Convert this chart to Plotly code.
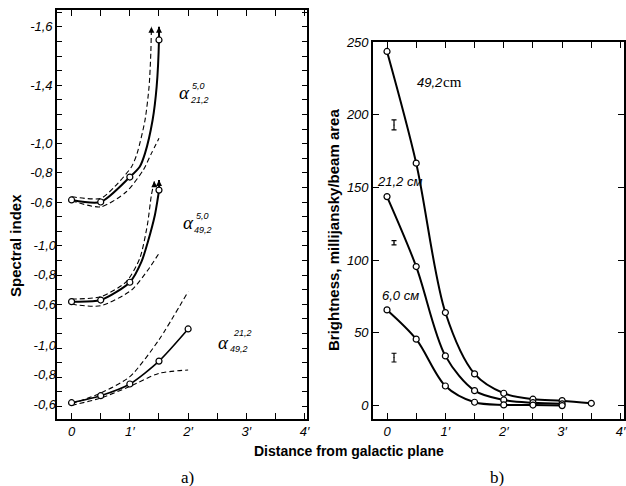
import plotly.graph_objects as go

W, H = 626, 486

# ---------------- Panel a) : spectral index ----------------
# measured points
a1_x = [0, 0.5, 1.0, 1.5]
a1_y = [-0.614, -0.60, -0.771, -1.71]
a2_x = [0, 0.5, 1.0, 1.5]
a2_y = [-0.616, -0.627, -0.749, -1.38]
a3_x = [0, 0.5, 1.0, 1.5, 2.0]
a3_y = [-0.609, -0.657, -0.737, -0.894, -1.114]

# solid curves (incl. arrow tips)
a1_cx = [0, 0.5, 1.0, 1.17, 1.26, 1.39, 1.46, 1.5, 1.5]
a1_cy = [-0.614, -0.60, -0.771, -0.842, -0.933, -1.16, -1.39, -1.71, -1.80]
a2_cx = [0, 0.5, 1.0, 1.2, 1.31, 1.43, 1.47, 1.5, 1.5]
a2_cy = [-0.616, -0.627, -0.749, -0.89, -1.027, -1.21, -1.30, -1.38, -1.45]
a3_cx = a3_x
a3_cy = a3_y

# dashed error envelopes
a1_up_x = [0, 0.5, 0.74, 1.03, 1.125, 1.26, 1.33, 1.36, 1.37]
a1_up_y = [-0.636, -0.625, -0.705, -0.842, -0.933, -1.16, -1.39, -1.62, -1.80]
a1_lo_x = [0, 0.5, 0.94, 1.23, 1.37, 1.5]
a1_lo_y = [-0.609, -0.567, -0.67, -0.819, -0.933, -1.036]
a2_up_x = [0, 0.5, 0.94, 1.17, 1.30, 1.37, 1.42]
a2_up_y = [-0.634, -0.65, -0.753, -0.912, -1.14, -1.346, -1.44]
a2_lo_x = [0, 0.5, 1.03, 1.31, 1.5]
a2_lo_y = [-0.598, -0.588, -0.696, -0.833, -0.947]
a3_up_x = [0, 0.5, 1.0, 1.5, 2.0]
a3_up_y = [-0.60, -0.675, -0.787, -1.04, -1.37]
a3_lo_x = [0, 0.5, 1.0, 1.5, 2.0]
a3_lo_y = [-0.59, -0.641, -0.72, -0.81, -0.833]

# arrow tips
arr1_x = [1.5, 1.37]
arr1_y = [-1.80, -1.80]
arr2_x = [1.5, 1.42]
arr2_y = [-1.45, -1.44]

# ---------------- Panel b) : brightness ----------------
b_x49 = [0, 0.5, 1.0, 1.5, 2.0, 2.5, 3.0, 3.5]
b_y49 = [243.5, 166.7, 64, 21.8, 8.5, 4.4, 3.4, 1.6]
b_x21 = [0, 0.5, 1.0, 1.5, 2.0, 2.5, 3.0]
b_y21 = [143.7, 95.6, 34.2, 10.3, 3.9, 2.0, 1.2]
b_x6 = [0, 0.5, 1.0, 1.5, 2.0, 2.5, 3.0]
b_y6 = [65.8, 45.7, 13.5, 2.3, 0.5, 0.4, 0.0]
err_x = [0.12, 0.12, 0.12]
err_y = [193, 112, 33]
err_e = [3.4, 1.5, 3.0]

x_ticks = [0, 0.5, 1, 1.5, 2, 2.5, 3, 3.5, 4]
x_text = ["0", "", "1′", "", "2′", "", "3′", "", "4′"]

fig = go.Figure()

def line(x, y, xa, ya, dash="solid", width=2.0, smoothing=0.7):
    fig.add_trace(go.Scatter(x=x, y=y, xaxis=xa, yaxis=ya, mode="lines",
                             line=dict(color="black", width=width, dash=dash, shape="spline",
                                       smoothing=smoothing),
                             hoverinfo="skip", showlegend=False))

def pts(x, y, xa, ya, size=6):
    fig.add_trace(go.Scatter(x=x, y=y, xaxis=xa, yaxis=ya, mode="markers",
                             marker=dict(symbol="circle", size=size, color="white",
                                         line=dict(color="black", width=1.2)),
                             hoverinfo="skip", showlegend=False))

def arrows(x, y, xa, ya):
    fig.add_trace(go.Scatter(x=x, y=y, xaxis=xa, yaxis=ya, mode="markers",
                             marker=dict(symbol="arrow-up", size=6, color="black"),
                             hoverinfo="skip", showlegend=False))

DASH = "5px,3px"
# top series on y, middle on y2, bottom on y3
line(a1_up_x, a1_up_y, "x", "y", DASH, 1.1)
line(a1_lo_x, a1_lo_y, "x", "y", DASH, 1.1)
line(a1_cx, a1_cy, "x", "y")
pts(a1_x, a1_y, "x", "y")
arrows(arr1_x, arr1_y, "x", "y")

line(a2_up_x, a2_up_y, "x", "y2", DASH, 1.1)
line(a2_lo_x, a2_lo_y, "x", "y2", DASH, 1.1)
line(a2_cx, a2_cy, "x", "y2")
pts(a2_x, a2_y, "x", "y2")
arrows(arr2_x, arr2_y, "x", "y2")

line(a3_up_x, a3_up_y, "x", "y3", DASH, 1.1)
line(a3_lo_x, a3_lo_y, "x", "y3", DASH, 1.1)
line(a3_cx, a3_cy, "x", "y3", width=1.6)
pts(a3_x, a3_y, "x", "y3")

# panel b
for bx, by in [(b_x49, b_y49), (b_x21, b_y21), (b_x6, b_y6)]:
    line(bx, by, "x2", "y4", width=2.0, smoothing=0.9)
for bx, by in [(b_x49, b_y49), (b_x21, b_y21), (b_x6, b_y6)]:
    pts(bx, by, "x2", "y4")
fig.add_trace(go.Scatter(x=err_x, y=err_y, xaxis="x2", yaxis="y4", mode="markers",
                         marker=dict(size=1, color="black"),
                         error_y=dict(type="data", array=err_e, color="black", thickness=1.2, width=2.5),
                         hoverinfo="skip", showlegend=False))

def px(v):
    return v / W

def py(v):
    return 1 - v / H

TICKFONT = dict(family="Liberation Sans Narrow, Liberation Sans, Arial", size=13, color="black", style="italic")

# axis ranges: -0.6 at pixel p06, 146 px per unit
def rng(p06):
    return [-0.6 + (419 - p06) / 146.0, -0.6 + (10 - p06) / 146.0]

top_vals = [round(-1.9 + 0.1 * i, 2) for i in range(28)]
top_lab = {-0.6: "-0,6", -0.8: "-0,8", -1.0: "-1,0", -1.4: "-1,4", -1.8: "-1,6"}
top_text = [top_lab.get(v, "") for v in top_vals]

axis_common = dict(showgrid=False, zeroline=False, color="black", linecolor="black",
                   tickcolor="black", tickfont=TICKFONT, automargin=False)

fig.update_layout(
    template="none",
    width=W, height=H, margin=dict(l=0, r=0, t=0, b=0, autoexpand=False),
    paper_bgcolor="white", plot_bgcolor="white",
    xaxis=dict(domain=[px(57), px(307)], range=[-0.25, 4.04], anchor="y",
               tickmode="array", tickvals=x_ticks, ticktext=x_text,
               ticks="inside", ticklen=6, mirror="ticks", showline=True, linewidth=1.6,
               **axis_common),
    yaxis=dict(domain=[py(419), py(10)], range=rng(202), anchor="x",
               tickmode="array", tickvals=top_vals, ticktext=top_text,
               ticks="inside", ticklen=5, mirror="ticks", showline=True, linewidth=1.6,
               **axis_common),
    yaxis2=dict(range=rng(304), overlaying="y", anchor="x", side="left",
                tickmode="array", tickvals=[-0.6, -0.8, -1.0], ticktext=["-0,6", "-0,8", "-1,0"],
                ticks="", showline=False, **axis_common),
    yaxis3=dict(range=rng(404), overlaying="y", anchor="x", side="left",
                tickmode="array", tickvals=[-0.6, -0.8, -1.0], ticktext=["-0,6", "-0,8", "-1,0"],
                ticks="", showline=False, **axis_common),
    xaxis2=dict(domain=[px(373), px(624)], range=[-0.24, 4.06], anchor="y4",
                tickmode="array", tickvals=x_ticks, ticktext=x_text,
                ticks="inside", ticklen=6, mirror="ticks", showline=True, linewidth=1.6,
                **axis_common),
    yaxis4=dict(domain=[py(419), py(42)], range=[-9.2, 250], anchor="x2",
                tickmode="array", tickvals=[0, 50, 100, 150, 200, 250],
                ticktext=["0", "50", "100", "150", "200", "250"],
                ticks="inside", ticklen=6, mirror="ticks", showline=True, linewidth=1.6,
                **axis_common),
)

ann = []

def txt(x, y, s, size=13, family="Liberation Sans", style="normal", weight="normal",
        xanchor="center", yanchor="middle", angle=0):
    ann.append(dict(x=px(x), y=py(y), xref="paper", yref="paper", text=s, showarrow=False,
                    xanchor=xanchor, yanchor=yanchor, textangle=angle,
                    font=dict(family=family, size=size, color="black", style=style, weight=weight)))

ITF = "Liberation Sans Narrow, Liberation Sans"
# alpha labels
txt(184, 93, "α", size=19, family="Liberation Serif", style="italic")
txt(190, 86, "5,0", size=9, family=ITF, style="italic", xanchor="left")
txt(188, 100, "21,2", size=9, family=ITF, style="italic", xanchor="left")
txt(188, 222, "α", size=19, family="Liberation Serif", style="italic")
txt(194, 216, "5,0", size=9, family=ITF, style="italic", xanchor="left")
txt(192, 230, "49,2", size=9, family=ITF, style="italic", xanchor="left")
txt(223, 342, "α", size=19, family="Liberation Serif", style="italic")
txt(231, 333, "21,2", size=9, family=ITF, style="italic", xanchor="left")
txt(228, 349, "49,2", size=9, family=ITF, style="italic", xanchor="left")

# panel b labels
txt(415, 83, "49,2", size=13, family=ITF, style="italic", xanchor="left")
txt(441, 82, "cm", size=15, family="Liberation Serif", xanchor="left")
txt(375, 182, "21,2 см", size=13, family=ITF, style="italic", xanchor="left")
txt(380, 295, "6,0 см", size=13, family=ITF, style="italic", xanchor="left")

# axis titles
txt(15, 246, "Spectral index", size=15, weight="bold", angle=-90)
txt(334, 230, "Brightness, millijansky/beam area", size=15, weight="bold", angle=-90)
txt(349, 451, "Distance from galactic plane", size=14, weight="bold")
txt(187, 477, "a)", size=17, family="Liberation Serif")
txt(497, 477, "b)", size=17, family="Liberation Serif")

fig.update_layout(annotations=ann)
fig.write_html("out.html", config={"displayModeBar": False},
               post_script="document.body.style.margin='0';")
